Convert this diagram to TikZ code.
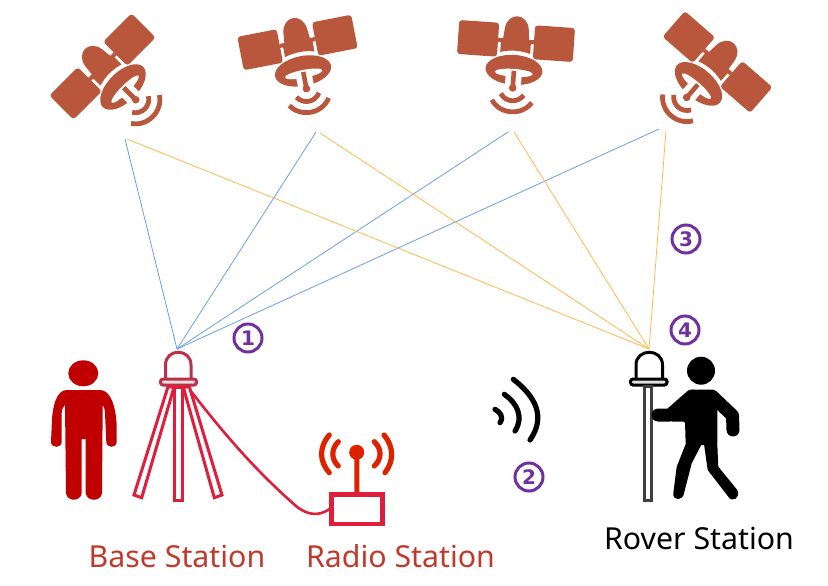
\documentclass[tikz,border=0pt]{standalone}
\usepackage{fontspec}
\setmainfont{Noto Sans}
\newfontfamily\markfont{DejaVu Sans}

\definecolor{SatColor}{HTML}{B8573B}
\definecolor{BaseColor}{HTML}{C00000}
\definecolor{DomeColor}{HTML}{BE2F4A}
\definecolor{TripodColor}{HTML}{E01E3C}
\definecolor{RadioColor}{HTML}{DD2200}
\definecolor{LabelColor}{HTML}{C0392B}
\definecolor{MarkColor}{HTML}{7030A0}
\definecolor{RayBlue}{HTML}{6A9FE8}
\definecolor{RayOrange}{HTML}{FFB84D}

\tikzset{
  SkyRay/.style={line width=0.8pt},
  Mark/.style={circle,draw=MarkColor,line width=3pt,text=MarkColor,minimum size=28pt,inner sep=0pt,font=\markfont\bfseries\fontsize{20}{20}\selectfont},
  Station/.style={font=\fontsize{30.3}{30.3}\selectfont,inner sep=0pt},
  Wave/.style={line width=#1,line cap=round},
  Limb/.style={line width=#1,line cap=round,line join=round},
  satellite/.pic={
    \fill[SatColor,rounded corners=3pt] (-58,-17) rectangle (-18,17);
    \fill[SatColor,rounded corners=3pt] (18,-17) rectangle (58,17);
    \fill[SatColor] (-18,-2) rectangle (18,2);
    \fill[SatColor] (-15,12) -- (-15,2) -- (-13,-2) -- (-12,-12) .. controls (-10,-29) and (10,-29) .. (12,-12) -- (13,-2) -- (15,2) -- (15,12) .. controls (5,9) and (-5,9) .. cycle;
    \fill[SatColor] (0,29) ellipse [x radius=28.5,y radius=15];
    \fill[white] (0,32) ellipse [x radius=19,y radius=4];
    \fill[white] (-8,32) rectangle (8,45);
    \draw[SatColor,line width=4.6pt] (0,30) -- (0,47);
    \fill[SatColor] (0,47) circle [radius=3.8];
    \draw[SatColor,line width=4.8pt] (-11.5,53.5) .. controls (-6,62) and (6,62) .. (11.5,53.5);
    \draw[SatColor,line width=4.8pt] (-20,60.4) .. controls (-11,74.5) and (11,74.5) .. (20,60.4);
  }
}

\begin{document}
\begin{tikzpicture}[x=1pt,y=-1pt]
\useasboundingbox (0,0) rectangle (828,586);

% Locations
\coordinate (BaseAntenna) at (177,349);
\coordinate (RoverAntenna) at (649,349);
\coordinate (SatOneBlue) at (125,139);
\coordinate (SatOneOrange) at (127,139);
\coordinate (SatTwoBlue) at (316,132);
\coordinate (SatTwoOrange) at (320,133);
\coordinate (SatThreeBlue) at (508,132);
\coordinate (SatThreeOrange) at (514,132);
\coordinate (SatFourBlue) at (659,129);
\coordinate (SatFourOrange) at (666,131);

% Satellites
\pic[rotate=45] (SatOne) at (102.5,66.5) {satellite};
\pic[rotate=11] (SatTwo) at (297.5,42.5) {satellite};
\pic[rotate=-4] (SatThree) at (516,41) {satellite};
\pic[rotate=-41] (SatFour) at (717.5,62) {satellite};

% Rays
\draw[SkyRay,RayBlue] (SatOneBlue) -- (BaseAntenna);
\draw[SkyRay,RayBlue] (SatTwoBlue) -- (BaseAntenna);
\draw[SkyRay,RayBlue] (SatThreeBlue) -- (BaseAntenna);
\draw[SkyRay,RayBlue] (SatFourBlue) -- (BaseAntenna);
\draw[SkyRay,RayOrange] (SatOneOrange) -- (RoverAntenna);
\draw[SkyRay,RayOrange] (SatTwoOrange) -- (RoverAntenna);
\draw[SkyRay,RayOrange] (SatThreeOrange) -- (RoverAntenna);
\draw[SkyRay,RayOrange] (SatFourOrange) -- (RoverAntenna);

% Person at the base
\fill[BaseColor] (83.3,373.3) ellipse [x radius=15,y radius=13];
\fill[BaseColor] (66.7,390) -- (100,390) .. controls (110,390) and (116,405) .. (116.7,426.7) -- (116.7,441.7)
  .. controls (116.7,448.5) and (106.3,448.5) .. (106.3,441.7) -- (105,413) .. controls (104.8,409) and (104,407) .. (102.7,405)
  -- (102,493) .. controls (101,502) and (86.7,502) .. (85.7,493) -- (85.7,439) -- (81.7,439) -- (81.7,493)
  .. controls (80.7,502) and (67,502) .. (66,493) -- (65,405) .. controls (63,407) and (62,409) .. (61.7,413) -- (61.7,441.7)
  .. controls (61.7,448.5) and (51,448.5) .. (51,441.7) -- (51.7,426.7) .. controls (52,405) and (57,390) .. (66.7,390) -- cycle;

% Base antenna on its tripod
\draw[DomeColor,line width=3pt] (165.5,380) -- (165.5,365) .. controls (165.5,348) and (191,348) .. (191,365) -- (191,380);
\draw[DomeColor,line width=3pt,fill=black!12,rounded corners=2.5pt] (160.5,379) rectangle (196.5,385);
\draw[TripodColor,line width=3pt] (174.5,387) rectangle (182.2,500.5);
\draw[TripodColor,line width=3pt] (168,386.7) -- (174,387.3) -- (141.7,497.7) -- (134,495) -- cycle;
\draw[TripodColor,line width=3pt] (183.3,387.3) -- (189.3,386.7) -- (222,495) -- (214.3,497.7) -- cycle;

% Radio station
\node[draw=TripodColor,line width=4.4pt,minimum width=50.8pt,minimum height=29.4pt,inner sep=0pt] (RadioBox) at (357,509) {};
\coordinate (TripodFoot) at (190,390);
\draw[TripodColor,line width=2.6pt] (TripodFoot) .. controls (225,435) and (255,470) .. (296,506) .. controls (308,516) and (320,516) .. (RadioBox.west);
\fill[RadioColor] (356.7,452.3) circle [radius=7.5];
\draw[RadioColor,line width=5pt] (356.7,452.3) -- (RadioBox.north);
\draw[Wave=5.2pt,RadioColor] (338.3,441.7) .. controls (331,449) and (331,459) .. (338.3,466);
\draw[Wave=5.2pt,RadioColor] (329.3,435) .. controls (319,447) and (319,461) .. (329.3,472.7);
\draw[Wave=5.2pt,RadioColor] (374.3,441.7) .. controls (382,449) and (382,459) .. (374.3,466);
\draw[Wave=5.2pt,RadioColor] (384,435) .. controls (394,447) and (394,461) .. (385,472.7);

% Radio link
\draw[Wave=5.2pt] (495,409.3) .. controls (500,412) and (504,417) .. (500,422.7);
\draw[Wave=5.2pt] (504.3,394.3) .. controls (517,403) and (524,417) .. (515,431);
\draw[Wave=5.2pt] (513.3,379.3) .. controls (536,397) and (546,417) .. (530,440);

% Rover pole
\draw[line width=3pt] (636,380) -- (636,365) .. controls (636,348) and (662.5,348) .. (662.5,365) -- (662.5,380);
\draw[line width=3pt,fill=black!12,rounded corners=2.5pt] (630.5,379) rectangle (667,385);
\draw[black!75,line width=3pt] (644.8,386.5) rectangle (651.2,500.5);

% Walking person
\fill (701,370.7) circle [radius=14];
\fill[rounded corners=2pt] (690.7,389.5) -- (711.7,389.5) -- (717.3,403.3) -- (717.3,445) -- (685.7,445) -- (685,421.5) -- (670,421.5) -- cycle;
\draw[Limb=13pt] (658,415) -- (670,415) -- (691.7,396);
\draw[Limb=13pt] (712,396) -- (732.5,415.5) -- (733,430);
% Legs
\fill[line join=round] (685.7,444) -- (701.7,444) -- (691.7,463.3) -- (684,493.3) .. controls (683,501) and (672.5,501) .. (673.3,493.3) -- (676.7,466.7) -- cycle;
\fill[line join=round] (704,444) -- (717.3,444) -- (718.3,466.7) -- (737.3,490) .. controls (741.5,498) and (731.5,503) .. (728.3,496.7) -- (707.7,470) -- cycle;

% Marks
\node[Mark] (MarkOne) at (248,338) {1};
\node[Mark] (MarkTwo) at (529,477) {2};
\node[Mark] (MarkThree) at (686,239) {3};
\node[Mark] (MarkFour) at (685,330) {4};

% Labels
\node[Station,text=LabelColor] (BaseLabel) at (177,556) {Base Station};
\node[Station,text=LabelColor] (RadioLabel) at (400.5,556) {Radio Station};
\node[Station] (RoverLabel) at (699,538) {Rover Station};
\end{tikzpicture}
\end{document}
